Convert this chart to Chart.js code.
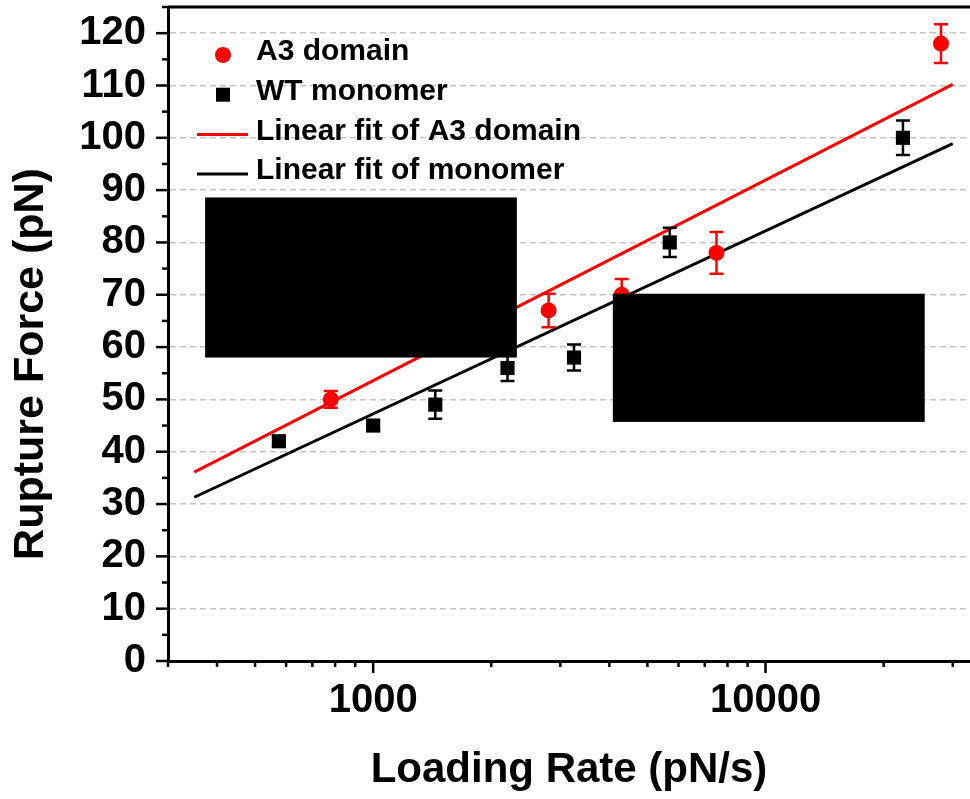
<!DOCTYPE html>
<html>
<head>
<meta charset="utf-8">
<script src="https://cdn.jsdelivr.net/npm/chart.js@4/dist/chart.umd.min.js"></script>
<style>
  html, body { margin: 0; padding: 0; background: #fff; }
</style>
</head>
<body>
<canvas id="grafico" width="970" height="799"></canvas>
<script>
// Datos
const tasaA3 = [780, 2800, 4300, 7500, 28000];
const fuerzaA3 = [50, 67, 70, 78, 118];
const errorA3 = [1.6, 3.2, 3, 4, 3.7];

const tasaWT = [575, 1000, 1440, 2200, 3250, 5700, 22400];
const fuerzaWT = [42, 45, 49, 56, 58, 80, 100];
const errorWT = [1, 1, 2.7, 2.5, 2.5, 2.8, 3.3];

// rectas de ajuste (extremos)
const ajusteX = [350, 30000];
const ajusteA3 = [36.1, 110.2];
const ajusteWT = [31.3, 98.9];

const marcasX = [300, 400, 500, 600, 700, 800, 900, 1000, 2000, 3000, 4000, 5000,
  6000, 7000, 8000, 9000, 10000, 20000, 30000];
const etiquetasX = [1000, 10000];
const etiquetasY = [0, 10, 20, 30, 40, 50, 60, 70, 80, 90, 100, 110, 120];

// zonas tapadas en negro (en unidades de los ejes)
const tapas = [
  { x1: 373, x2: 2324, y1: 58.0, y2: 88.6 },
  { x1: 4082, x2: 25450, y1: 45.7, y2: 70.2 }
];

const fuente = '"Liberation Sans", Arial, sans-serif';
Chart.defaults.font.family = fuente;
Chart.defaults.font.weight = 'bold';
Chart.defaults.color = '#000';

const puntos = (xs, ys) => xs.map((x, i) => ({ x: x, y: ys[i] }));

const barrasError = {
  id: 'barrasError',
  afterDatasetsDraw(chart) {
    const ctx = chart.ctx;
    const sx = chart.scales.x, sy = chart.scales.y;
    const dibujar = (xs, ys, es, color) => {
      ctx.strokeStyle = color;
      ctx.lineWidth = 2.5;
      xs.forEach((x, i) => {
        const px = sx.getPixelForValue(x);
        const top = sy.getPixelForValue(ys[i] + es[i]);
        const bot = sy.getPixelForValue(ys[i] - es[i]);
        ctx.beginPath();
        ctx.moveTo(px, top); ctx.lineTo(px, bot);
        ctx.moveTo(px - 7, top); ctx.lineTo(px + 7, top);
        ctx.moveTo(px - 7, bot); ctx.lineTo(px + 7, bot);
        ctx.stroke();
      });
    };
    ctx.save();
    dibujar(tasaWT, fuerzaWT, errorWT, '#000');
    dibujar(tasaA3, fuerzaA3, errorA3, '#ff0000');
    // tapas negras
    ctx.fillStyle = '#000';
    tapas.forEach(t => {
      const x1 = sx.getPixelForValue(t.x1), x2 = sx.getPixelForValue(t.x2);
      const y1 = sy.getPixelForValue(t.y2), y2 = sy.getPixelForValue(t.y1);
      ctx.fillRect(x1, y1, x2 - x1, y2 - y1);
    });
    ctx.restore();
  }
};

const marcoYLeyenda = {
  id: 'marcoYLeyenda',
  afterDraw(chart) {
    const ctx = chart.ctx;
    const area = chart.chartArea;
    const sx = chart.scales.x, sy = chart.scales.y;
    ctx.save();
    ctx.strokeStyle = '#000';
    // linea superior
    ctx.lineWidth = 3;
    ctx.beginPath();
    ctx.moveTo(area.left, area.top);
    ctx.lineTo(area.right, area.top);
    ctx.stroke();
    // marcas del eje y
    ctx.lineWidth = 2.5;
    sy.ticks.forEach(t => {
      const p = sy.getPixelForValue(t.value);
      const largo = t.value % 10 === 0 ? 12 : 6;
      ctx.beginPath();
      ctx.moveTo(area.left - largo, p);
      ctx.lineTo(area.left, p);
      ctx.stroke();
    });
    // marcas del eje x
    sx.ticks.forEach(t => {
      const p = sx.getPixelForValue(t.value);
      const largo = etiquetasX.includes(t.value) ? 12 : 6;
      ctx.beginPath();
      ctx.moveTo(p, area.bottom);
      ctx.lineTo(p, area.bottom + largo);
      ctx.stroke();
    });
    // titulo eje y
    ctx.font = 'bold 43px ' + fuente;
    ctx.fillStyle = '#000';
    ctx.textAlign = 'center';
    ctx.textBaseline = 'middle';
    ctx.translate(31.5, 364);
    ctx.rotate(-Math.PI / 2);
    ctx.fillText('Rupture Force (pN)', 0, 0);
    ctx.restore();

    // leyenda
    ctx.save();
    ctx.font = 'bold 30px ' + fuente;
    ctx.textAlign = 'left';
    ctx.textBaseline = 'middle';
    chart.data.datasets.forEach((ds, i) => {
      const yt = 52 + i * 39.7;
      const ys = yt + 3;
      const x0 = area.left;
      ctx.fillStyle = ds.backgroundColor;
      ctx.strokeStyle = ds.borderColor;
      if (ds.showLine) {
        ctx.lineWidth = ds.borderWidth;
        ctx.beginPath();
        ctx.moveTo(x0 + 29, ys);
        ctx.lineTo(x0 + 80, ys);
        ctx.stroke();
      } else if (ds.pointStyle === 'circle') {
        ctx.beginPath();
        ctx.arc(x0 + 55, ys, 8, 0, Math.PI * 2);
        ctx.fill();
      } else {
        ctx.fillRect(x0 + 55 - 7, ys - 7, 14, 14);
      }
      ctx.fillStyle = '#000';
      ctx.fillText(ds.label, x0 + 88, yt);
    });
    ctx.restore();
  }
};

new Chart(document.getElementById('grafico'), {
  type: 'scatter',
  data: {
    datasets: [
      {
        label: 'A3 domain',
        data: puntos(tasaA3, fuerzaA3),
        pointStyle: 'circle',
        pointRadius: 8,
        pointHoverRadius: 8,
        backgroundColor: '#ff0000',
        borderColor: '#ff0000',
        borderWidth: 0
      },
      {
        label: 'WT monomer',
        data: puntos(tasaWT, fuerzaWT),
        pointStyle: 'rect',
        pointRadius: 10,
        pointHoverRadius: 10,
        backgroundColor: '#000',
        borderColor: '#000',
        borderWidth: 0
      },
      {
        label: 'Linear fit of A3 domain',
        data: puntos(ajusteX, ajusteA3),
        showLine: true,
        pointRadius: 0,
        borderColor: '#ff0000',
        backgroundColor: '#ff0000',
        borderWidth: 3
      },
      {
        label: 'Linear fit of monomer',
        data: puntos(ajusteX, ajusteWT),
        showLine: true,
        pointRadius: 0,
        borderColor: '#000',
        backgroundColor: '#000',
        borderWidth: 3
      }
    ]
  },
  options: {
    responsive: false,
    animation: false,
    layout: { autoPadding: false, padding: { top: 7, right: 0, bottom: 0, left: 0 } },
    plugins: {
      legend: { display: false },
      tooltip: { enabled: false }
    },
    scales: {
      x: {
        type: 'logarithmic',
        min: 300,
        max: 33200,
        afterBuildTicks: s => { s.ticks = marcasX.map(v => ({ value: v })); },
        afterFit: s => { s.height = 138; s.paddingLeft = 0; s.paddingRight = 0; },
        ticks: {
          autoSkip: false,
          maxRotation: 0,
          padding: 16,
          font: { size: 40, weight: 'bold' },
          callback: v => etiquetasX.includes(v) ? String(v) : ''
        },
        grid: { display: false, drawTicks: false },
        border: { display: true, color: '#000', width: 3 },
        title: {
          display: true,
          text: 'Loading Rate (pN/s)',
          font: { size: 42, weight: 'bold' },
          padding: { top: 0, bottom: 3 }
        }
      },
      y: {
        min: 0,
        max: 125,
        afterFit: s => { s.width = 168; s.paddingTop = 0; s.paddingBottom = 0; },
        ticks: {
          stepSize: 5,
          autoSkip: false,
          padding: 22,
          font: { size: 40, weight: 'bold' },
          callback: v => etiquetasY.includes(v) ? String(v) : ''
        },
        grid: {
          drawTicks: false,
          lineWidth: 1.5,
          color: c => (c.tick && c.tick.value > 0 && c.tick.value % 10 === 0 && c.tick.value <= 120) ? '#c4c4c4' : 'rgba(0,0,0,0)'
        },
        border: { display: true, color: '#000', width: 3, dash: [6, 4] }
      }
    }
  },
  plugins: [barrasError, marcoYLeyenda]
});
</script>
</body>
</html>
